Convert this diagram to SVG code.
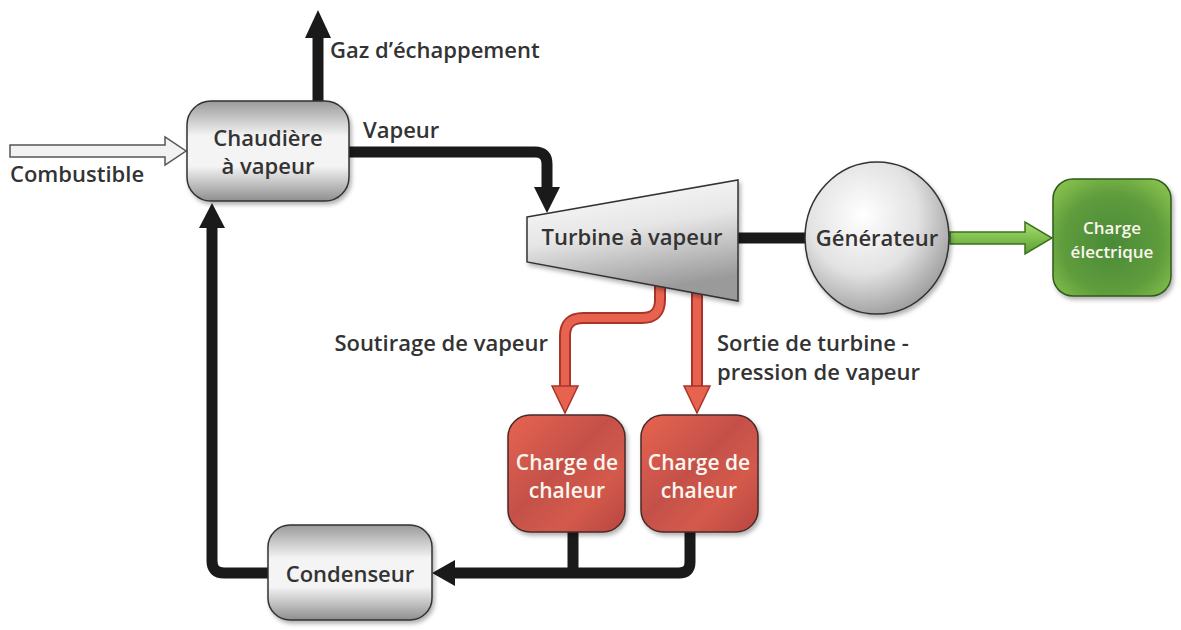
<svg xmlns="http://www.w3.org/2000/svg" width="1181" height="630" viewBox="0 0 1181 630">
<style>
.t{font-family:"Open Sans","Noto Sans",sans-serif;font-size:22px;font-weight:600;fill:#333;}
.w{font-family:"Open Sans","Noto Sans",sans-serif;font-weight:600;fill:#fbf6ee;}
.gbox{fill:url(#gray);stroke:#333;stroke-width:1.5;filter:url(#sh);}
.blk{fill:none;stroke:#1a1a1a;stroke-width:11;}
.rO{fill:none;stroke:#a8352a;stroke-width:12;}
.rI{fill:none;stroke:#e8634f;stroke-width:8;}
.rh{fill:#e8634f;stroke:#a8352a;stroke-width:1.5;}
</style>
<defs>
<linearGradient id="gray" x1="0" y1="0" x2="0" y2="1">
<stop offset="0" stop-color="#9a9a9a"/><stop offset="0.35" stop-color="#f4f4f4"/><stop offset="0.65" stop-color="#f4f4f4"/><stop offset="1" stop-color="#8f8f8f"/>
</linearGradient>
<linearGradient id="turb" x1="0" y1="0" x2="0.3" y2="1">
<stop offset="0" stop-color="#ffffff"/><stop offset="0.5" stop-color="#e6e6e6"/><stop offset="1" stop-color="#9a9a9a"/>
</linearGradient>
<radialGradient id="gen" cx="0.4" cy="0.35" r="0.7">
<stop offset="0" stop-color="#ffffff"/><stop offset="0.55" stop-color="#e2e2e2"/><stop offset="1" stop-color="#9a9a9a"/>
</radialGradient>
<linearGradient id="red" x1="0" y1="0" x2="1" y2="1">
<stop offset="0" stop-color="#e8644f"/><stop offset="0.45" stop-color="#c4504a"/><stop offset="0.7" stop-color="#d45a4c"/><stop offset="1" stop-color="#b84640"/>
</linearGradient>
<radialGradient id="green" cx="0.5" cy="0.55" r="0.7">
<stop offset="0" stop-color="#4a8a38"/><stop offset="0.6" stop-color="#5f9c3c"/><stop offset="1" stop-color="#8cc650"/>
</radialGradient>
<linearGradient id="garr" x1="0" y1="0" x2="0" y2="1">
<stop offset="0" stop-color="#a8e070"/><stop offset="1" stop-color="#5a9e30"/>
</linearGradient>
<filter id="sh" x="-10%" y="-10%" width="130%" height="130%">
<feDropShadow dx="2" dy="3" stdDeviation="2" flood-color="#000" flood-opacity="0.3"/>
</filter>
</defs>

<g id="connectors">
<path d="M10,145 H165 V137 L186,151 L165,165 V157 H10 Z" fill="#f2f2f2" stroke="#555" stroke-width="1.5"/>
<path class="blk" d="M318,102 V36"/>
<polygon points="305,38 331,38 318,10" fill="#1a1a1a"/>
<path class="blk" d="M349,152 H535 Q547,152 547,164 V189"/>
<polygon points="534,187 560,187 547,213" fill="#1a1a1a"/>
<path class="blk" d="M738,238 H806" stroke-width="12"/>
<path d="M950,232 H1025 V222 L1052,238 L1025,254 V244 H950 Z" fill="url(#garr)" stroke="#3c7020" stroke-width="1.5"/>
<path class="rO" d="M660,286 V300 Q660,318 642,318 H583 Q565,318 565,336 V388"/>
<path class="rI" d="M660,286 V300 Q660,318 642,318 H583 Q565,318 565,336 V388"/>
<polygon class="rh" points="552,386 578,386 565,413"/>
<path class="rO" d="M697,293 V388"/>
<path class="rI" d="M697,293 V388"/>
<polygon class="rh" points="684,386 710,386 697,413"/>
<path class="blk" d="M573,530 V573"/>
<path class="blk" d="M690,530 V562 Q690,573 679,573 H452"/>
<polygon points="455,560 455,586 432,573" fill="#1a1a1a"/>
<path class="blk" d="M268,573 H224 Q212,573 212,561 V226"/>
<polygon points="199,228 225,228 212,203" fill="#1a1a1a"/>
</g>

<g id="chaudiere">
<rect class="gbox" x="187" y="101" width="162" height="100" rx="24"/>
<text class="t" x="268" y="146" text-anchor="middle">Chaudière</text>
<text class="t" x="268" y="174" text-anchor="middle">à vapeur</text>
</g>

<g id="turbine">
<polygon points="527,217 738,180 738,301 527,262" fill="url(#turb)" stroke="#333" stroke-width="1.5" filter="url(#sh)"/>
<text class="t" x="632" y="245" text-anchor="middle">Turbine à vapeur</text>
</g>

<g id="generateur">
<ellipse cx="877" cy="238" rx="72" ry="76" fill="url(#gen)" stroke="#333" stroke-width="1.5" filter="url(#sh)"/>
<text class="t" x="877" y="246" text-anchor="middle">Générateur</text>
</g>

<g id="charge-electrique">
<rect x="1053" y="179" width="118" height="117" rx="20" fill="url(#green)" stroke="#2f5a1c" stroke-width="1.5" filter="url(#sh)"/>
<text class="w" x="1112" y="234" font-size="17" text-anchor="middle">Charge</text>
<text class="w" x="1112" y="258" font-size="17" text-anchor="middle">électrique</text>
</g>

<g id="chaleur1">
<rect x="508" y="415" width="117" height="117" rx="22" fill="url(#red)" stroke="#4a2a28" stroke-width="1.5" filter="url(#sh)"/>
<text class="w" x="567" y="470" font-size="21" text-anchor="middle">Charge de</text>
<text class="w" x="567" y="498" font-size="21" text-anchor="middle">chaleur</text>
</g>

<g id="chaleur2">
<rect x="641" y="415" width="117" height="117" rx="22" fill="url(#red)" stroke="#4a2a28" stroke-width="1.5" filter="url(#sh)"/>
<text class="w" x="699" y="470" font-size="21" text-anchor="middle">Charge de</text>
<text class="w" x="699" y="498" font-size="21" text-anchor="middle">chaleur</text>
</g>

<g id="condenseur">
<rect class="gbox" x="268" y="525" width="164" height="95" rx="22"/>
<text class="t" x="350" y="582" text-anchor="middle">Condenseur</text>
</g>

<g id="labels">
<text class="t" x="10" y="182">Combustible</text>
<text class="t" x="330" y="58">Gaz d’échappement</text>
<text class="t" x="363" y="138">Vapeur</text>
<text class="t" x="548" y="351" text-anchor="end">Soutirage de vapeur</text>
<text class="t" x="717" y="351">Sortie de turbine -</text>
<text class="t" x="717" y="380">pression de vapeur</text>
</g>
</svg>
